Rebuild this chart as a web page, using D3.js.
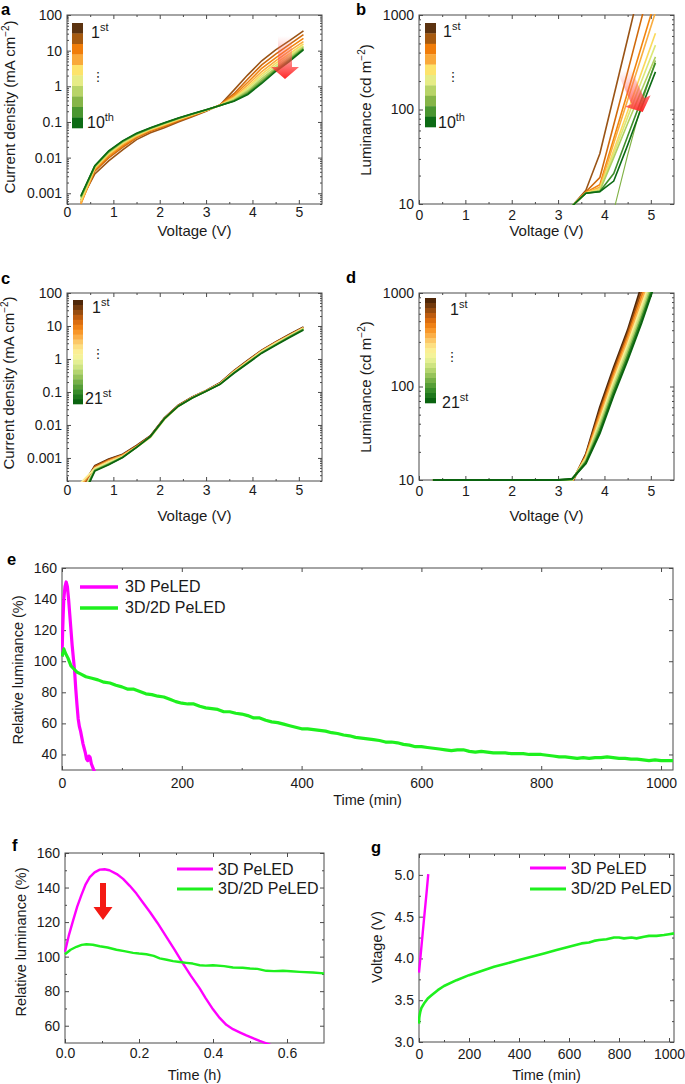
<!DOCTYPE html>
<html><head><meta charset="utf-8">
<script src="https://cdn.jsdelivr.net/npm/d3@7"></script>
<style>
body{margin:0;background:#fff;}
svg{display:block;font-family:"Liberation Sans",Arial,Helvetica,sans-serif;}
</style></head><body>
<svg id="chart" width="685" height="1084"></svg>
<script>
// ---------------- DATA ----------------
const voltsA = [0.3,0.6,0.9,1.2,1.5,1.8,2.1,2.4,2.7,3.0,3.3,3.6,3.9,4.2,4.5,4.8,5.1];
const scansA = [
 [0.00063,0.0035,0.0081,0.0166,0.032,0.050,0.069,0.100,0.140,0.200,0.30,0.78,2.1,5.2,10.5,19,36],
 [0.00055,0.0042,0.0098,0.0195,0.036,0.055,0.075,0.107,0.148,0.205,0.30,0.62,1.6,4.0,8.0,15,28],
 [0.00050,0.0046,0.0110,0.0215,0.038,0.058,0.079,0.111,0.152,0.208,0.30,0.55,1.3,3.2,6.3,12,22],
 [0.00052,0.0049,0.0120,0.0235,0.040,0.060,0.082,0.115,0.156,0.210,0.30,0.50,1.1,2.6,5.2,9.8,18],
 [0.00060,0.0052,0.0128,0.0250,0.042,0.062,0.085,0.118,0.159,0.212,0.29,0.47,0.95,2.2,4.4,8.2,15.5],
 [0.00068,0.0054,0.0135,0.0262,0.044,0.064,0.088,0.121,0.162,0.214,0.29,0.44,0.85,1.9,3.8,7.2,13.5],
 [0.00074,0.0056,0.0141,0.0272,0.045,0.066,0.090,0.124,0.165,0.216,0.29,0.42,0.75,1.65,3.3,6.4,12.5],
 [0.00078,0.0057,0.0146,0.0282,0.046,0.067,0.092,0.126,0.167,0.218,0.29,0.40,0.68,1.45,3.0,5.8,11.5],
 [0.00082,0.0058,0.0150,0.0290,0.047,0.068,0.093,0.128,0.168,0.219,0.29,0.39,0.63,1.3,2.8,5.4,11],
 [0.00085,0.0059,0.0155,0.0295,0.048,0.069,0.095,0.130,0.170,0.220,0.29,0.38,0.59,1.2,2.6,5.0,10.5]
];
const voltsB = [3.3,3.6,3.9,4.2,4.5,4.8,5.1];
const scansB = [
 [9.5,14,34,138,560,2300,9000],
 [9.5,13.5,19,69,250,920,3300],
 [9.5,13.3,16,49,152,470,1450],
 [9.5,13.2,15,44,126,365,1070],
 [9.5,13.1,14.5,37,96,247,640],
 [9.5,13,14,34,83,200,480],
 [9.5,13,13.8,31,71,160,360],
 [null,null,null,8.5,33,115,330],
 [9.5,13,13.6,21,52,128,310],
 [9.5,13,13.5,17.5,42,105,250]
];
const voltsC = [0.3,0.6,0.9,1.2,1.5,1.8,2.1,2.4,2.7,3.0,3.3,3.6,3.9,4.2,4.5,4.8,5.1];
const scanIdxC = [1,4,8,11,14,18,21];
const scansC = [
 [0.00012,0.00058,0.00092,0.0013,0.0024,0.0047,0.0165,0.040,0.070,0.110,0.190,0.44,0.92,1.85,3.3,5.6,9.4],
 [0.00011,0.00055,0.00088,0.00125,0.0023,0.0046,0.016,0.039,0.069,0.109,0.185,0.43,0.89,1.8,3.2,5.4,9.0],
 [0.00015,0.0005,0.00082,0.0012,0.0022,0.0044,0.0158,0.038,0.068,0.108,0.18,0.42,0.86,1.75,3.1,5.25,8.8],
 [0.00018,0.00048,0.00075,0.0011,0.0021,0.0041,0.0145,0.036,0.067,0.106,0.176,0.40,0.83,1.68,3.0,5.1,8.5],
 [0.00008,0.00045,0.0007,0.00108,0.0021,0.0043,0.015,0.037,0.066,0.105,0.173,0.39,0.80,1.62,2.85,4.9,8.2],
 [0.00006,0.00042,0.00065,0.00105,0.0021,0.0044,0.0152,0.037,0.066,0.105,0.171,0.38,0.77,1.56,2.7,4.7,7.9],
 [0.00005,0.0004,0.00062,0.00103,0.0021,0.0045,0.0155,0.037,0.066,0.105,0.17,0.37,0.74,1.5,2.6,4.5,7.6]
];
const voltsD = [0.3,0.6,0.9,1.2,1.5,1.8,2.1,2.4,2.7,3.0,3.3,3.6,3.9,4.2,4.5,4.8,5.1];
const scanIdxD = [1,3,6,8,11,14,16,19,21];
const scansD = [
 [10,10,10,10,10,10,10,10,10,10,9.3,19,60,160,400,1200,3000],
 [10,10,10,10,10,10,10,10,10,10,9.5,18.5,55,148,370,1050,2700],
 [10,10,10,10,10,10,10,10,10,10,9.6,18,51,137,340,920,2400],
 [10,10,10,10,10,10,10,10,10,10,9.8,17.5,47,125,310,820,2100],
 [10,10,10,10,10,10,10,10,10,10,9.9,17,43,115,280,730,1900],
 [10,10,10,10,10,10,10,10,10,10,10,16.5,40,105,255,650,1700],
 [10,10,10,10,10,10,10,10,10,10,10.1,16,37,96,230,580,1550],
 [10,10,10,10,10,10,10,10,10,10,10.2,15.5,34,88,210,530,1400],
 [10,10,10,10,10,10,10,10,10,10,10.3,15,31.6,81,192,480,1300]
];
const seriesNames = ["3D PeLED","3D/2D PeLED"];
const eTime3D = [0,1,2,3,5,7,9,11,13,15,17,19,21,23,25,27,29,31,33,35,37,39,41,43,45,47,49,52,55];
const eLum3D  = [103,118,130,140,148,151,148,140,130,120,110,102,94,82,72,63,58,55,51,47,44,41,37,36,39,38,34,31,28];
const eTime2D = [0,3,6,10,15,20,25,30,40,50,60,70,80,90,100,110,120,130,140,150,160,170,180,190,200,210,220,230,240,250,260,270,280,290,300,310,320,330,340,350,360,370,380,390,400,410,420,430,440,450,460,470,480,490,500,510,520,530,540,550,560,570,580,590,600,610,620,630,640,650,660,670,680,690,700,710,720,730,740,750,760,770,780,790,800,810,820,830,840,850,860,870,880,890,900,910,920,930,940,950,960,970,980,990,1000,1010,1020];
const eLum2D  = [103,108,105,102,97,95,93,92,90,89,88,86.5,86,84.5,83.5,82,82,80.5,79,78.5,77.5,77,75.5,74,73,72.5,72.5,71,70,69.5,69,67.5,67.5,66.5,66,65,63.5,63.5,62,61,60.5,59.5,58.5,57.5,56.5,56.5,56,55.5,55,54,53.5,52.5,52,51,50.5,50,49.5,49,48,48,47.5,46.5,46,45,45,44.5,44,43.5,43,42.5,43,43,42,41.5,42,41.5,41,41,41,40.5,40.5,40.5,40,40,40,39.5,39,38.5,38.5,38,37.5,38,37.5,38,38,38.5,38,37.5,37.5,37,37,36.5,36,36.5,36,36,36];
const fTime3D = [0,0.01,0.022,0.033,0.044,0.055,0.067,0.08,0.094,0.107,0.12,0.14,0.157,0.175,0.193,0.21,0.229,0.25,0.274,0.296,0.319,0.34,0.364,0.38,0.4,0.418,0.436,0.454,0.472,0.49,0.508,0.526,0.544,0.56];
const fLum3D  = [102.8,112,121,129,135.5,141.5,146,148.8,150.4,150.6,150,147.8,145,141,136.5,131.5,126,119.5,111.4,104,96,89,81.6,76,69.5,64.5,60.5,58,56.2,54.4,52.8,51.2,49.8,48.5];
const fTime2D = [0,0.015,0.031,0.045,0.058,0.075,0.094,0.115,0.139,0.16,0.184,0.2,0.22,0.24,0.256,0.275,0.292,0.31,0.328,0.345,0.364,0.38,0.4,0.43,0.454,0.48,0.5,0.52,0.544,0.565,0.589,0.61,0.634,0.67,0.7];
const fLum2D  = [101.4,104,105.7,106.8,107.2,106.9,106,105.3,104,103.2,102.2,101.8,101.4,100.4,99,98.2,97.4,96.9,96.4,96,95,94.8,95,94.5,93.7,93.6,93.1,92.9,91.8,91.6,91.8,91.5,91.2,90.8,90.3];
const gTime3D = [0,10,20,30,37];
const gVolt3D = [3.83,4.15,4.47,4.78,5.01];
const gTime2D = [0,1,3,5,10,20,35,50,75,100,150,200,250,300,350,400,450,500,550,600,650,680,700,720,750,780,800,820,850,870,900,920,950,980,1000,1020];
const gVolt2D = [3.22,3.29,3.33,3.36,3.41,3.46,3.52,3.56,3.62,3.67,3.74,3.80,3.85,3.90,3.94,3.98,4.02,4.06,4.10,4.14,4.18,4.19,4.21,4.22,4.23,4.25,4.25,4.24,4.25,4.24,4.26,4.27,4.27,4.28,4.29,4.30];
const voltTicks = [0,1,2,3,4,5];
const jTicks = [0.001,0.01,0.1,1,10,100];
const lTicks = [10,100,1000];
const timeTicks = [0,200,400,600,800,1000];
const relTicksE = [40,60,80,100,120,140,160];
const relTicksF = [60,80,100,120,140,160];
const hourTicks = [0,0.2,0.4,0.6];
const vTicksG = [3.0,3.5,4.0,4.5,5.0];

// ---------------- STYLE ----------------
const AX = "#4a4a4a", TXT = "#1a1a1a";
const MAG = "#ff00ff", GRN = "#1ef01e";
const pal10 = ["#5c3310","#a65a10","#f07d0a","#f9a93a","#fde36b","#e6ec86","#b8d468","#86b548","#4a9630","#0c6b14"];
const line10 = ["#9a5416","#d06a0c","#f2850f","#f9ad40","#fbd95c","#dde776","#b0d060","#80b245","#3f8f2a","#0c6b14"];
const interp21 = d3.interpolateRgbBasis(["#4f2708","#8e4a12","#d9650c","#f88a14","#fcb552","#fde58a","#fbf9a0","#d6ea8a","#a6cd62","#6aa840","#2f8a26","#0a630f"]);
const pal21 = d3.range(21).map(i=>interp21(i/20));

const svg = d3.select("#chart");
const defs = svg.append("defs");

function logMinor(dom){
  const out=[]; const lo=Math.floor(Math.log10(dom[0])), hi=Math.ceil(Math.log10(dom[1]));
  for(let e=lo;e<=hi;e++) for(let k=2;k<=9;k++){const v=k*Math.pow(10,e); if(v>=dom[0]&&v<=dom[1]) out.push(v);}
  return out;
}

function panel(o){
  const x=o.x.range([o.l,o.r]), y=o.y.range([o.b,o.t]);
  const g=svg.append("g");
  defs.append("clipPath").attr("id","clip"+o.name).append("rect")
    .attr("x",o.l-1).attr("y",o.t-1).attr("width",o.r-o.l+2).attr("height",o.b-o.t+2);
  g.append("rect").attr("x",o.l).attr("y",o.t).attr("width",o.r-o.l).attr("height",o.b-o.t)
    .attr("fill","none").attr("stroke",AX).attr("stroke-width",1);
  const ax=(gen,tr,vals,size,fmt,pad)=>{
    const a=gen.tickValues(vals).tickSizeInner(-size).tickSizeOuter(0).tickPadding(pad||0).tickFormat(fmt||(()=>""));
    const s=g.append("g").attr("transform",tr).call(a);
    s.select(".domain").remove();
    s.attr("font-family",null).attr("font-size",14).attr("color",AX);
    s.selectAll("text").attr("fill",TXT);
  };
  ax(d3.axisBottom(x),`translate(0,${o.b})`,o.xTicks,4,o.xFmt,o.xPad);
  ax(d3.axisTop(x),`translate(0,${o.t})`,o.xTicks,4);
  if(o.xMinor){ax(d3.axisBottom(x),`translate(0,${o.b})`,o.xMinor,2);ax(d3.axisTop(x),`translate(0,${o.t})`,o.xMinor,2);}
  ax(d3.axisLeft(y),`translate(${o.l},0)`,o.yTicks,4,o.yFmt,5);
  ax(d3.axisRight(y),`translate(${o.r},0)`,o.yTicks,4);
  if(o.yMinor){ax(d3.axisLeft(y),`translate(${o.l},0)`,o.yMinor,2);ax(d3.axisRight(y),`translate(${o.r},0)`,o.yMinor,2);}
  g.append("text").attr("x",(o.l+o.r)/2).attr("y",o.xTitleY).attr("text-anchor","middle")
    .attr("font-size",o.titleSize||15).attr("fill",TXT).text(o.xTitle);
  const yt=g.append("text").attr("transform",`translate(${o.yTitleX},${o.yTitleC}) rotate(-90)`)
    .attr("text-anchor","middle").attr("font-size",o.titleSize||15).attr("fill",TXT);
  o.yTitle.forEach(p=>{const t=yt.append("tspan").text(p.t); if(p.sup){t.attr("font-size",10).attr("dy",-6);} if(p.down){t.attr("dy",6);} });
  g.append("text").attr("x",o.letter[0]).attr("y",o.letter[1]).attr("font-size",16.5).attr("font-weight","bold").attr("fill","#000").text(o.name);
  const plot=g.append("g").attr("clip-path",`url(#clip${o.name})`);
  return {g,plot,x,y};
}

function colorbar(g,cols,x0,y0,w,h,lab1,lab2,p){
  const n=cols.length, sh=h/n;
  cols.forEach((c,i)=>g.append("rect").attr("x",x0).attr("y",y0+i*sh).attr("width",w).attr("height",sh+0.3).attr("fill",c));
  const t1=g.append("text").attr("x",p.x1).attr("y",p.y1).attr("font-size",16).attr("fill",TXT);
  t1.append("tspan").text(lab1[0]); t1.append("tspan").attr("font-size",11).attr("dy",-7).text(lab1[1]);
  const t2=g.append("text").attr("x",p.x2).attr("y",p.y2).attr("font-size",16).attr("fill",TXT);
  t2.append("tspan").text(lab2[0]); t2.append("tspan").attr("font-size",11).attr("dy",-7).text(lab2[1]);
  g.append("text").attr("x",p.xd).attr("y",p.yd).attr("font-size",13).attr("text-anchor","middle")
    .attr("font-family","DejaVu Sans").attr("fill",TXT).text("\u22EE");
}

function gradArrow(g,id,tx,ty,len,sw,hw,hl,rot){
  const gr=defs.append("linearGradient").attr("id",id).attr("x1",0).attr("y1",0).attr("x2",0).attr("y2",1);
  gr.append("stop").attr("offset","0%").attr("stop-color","#ff8080").attr("stop-opacity",0);
  gr.append("stop").attr("offset","50%").attr("stop-color","#ff5050").attr("stop-opacity",0.55);
  gr.append("stop").attr("offset","100%").attr("stop-color","#ff2525").attr("stop-opacity",1);
  const pts=[[-sw/2,0],[sw/2,0],[sw/2,len-hl],[hw/2,len-hl],[0,len],[-hw/2,len-hl],[-sw/2,len-hl]];
  g.append("path").attr("d","M"+pts.map(p=>p.join(",")).join("L")+"Z")
    .attr("transform",`translate(${tx},${ty}) rotate(${rot})`).attr("fill",`url(#${id})`);
}

// ---------------- PANEL A ----------------
{
  const P=panel({name:"a",l:67,r:322,t:15,b:204,x:d3.scaleLinear().domain([0,5.5]),y:d3.scaleLog().domain([0.0005,100]),
    xTicks:voltTicks,xMinor:[0.5,1.5,2.5,3.5,4.5],xFmt:d3.format("d"),xPad:3,yTicks:jTicks,yMinor:logMinor([0.0005,100]),yFmt:d=>String(d),
    xTitle:"Voltage (V)",xTitleY:236,yTitleX:15,yTitleC:107,titleSize:15,
    yTitle:[{t:"Current density (mA cm"},{t:"\u22122",sup:true},{t:")",down:true}],letter:[1,15]});
  const line=d3.line().x((d,i)=>P.x(voltsA[i])).y(d=>P.y(d));
  scansA.forEach((s,i)=>P.plot.append("path").attr("d",line(s)).attr("fill","none").attr("stroke",line10[i]).attr("stroke-width",1.6));
  gradArrow(P.g,"ga",285,36,43,14,28,12,0);
  colorbar(P.g,pal10,72,23,11,105,["1","st"],["10","th"],{x1:91,y1:38,x2:87,y2:128,xd:98,yd:81});
}
// ---------------- PANEL B ----------------
{
  const P=panel({name:"b",l:419,r:674,t:15,b:204,x:d3.scaleLinear().domain([0,5.5]),y:d3.scaleLog().domain([10,1000]),
    xTicks:voltTicks,xMinor:[0.5,1.5,2.5,3.5,4.5],xFmt:d3.format("d"),xPad:6,yTicks:lTicks,yMinor:logMinor([10,1000]),yFmt:d=>String(d),
    xTitle:"Voltage (V)",xTitleY:236,yTitleX:371,yTitleC:110,titleSize:15,
    yTitle:[{t:"Luminance (cd m"},{t:"\u22122",sup:true},{t:")",down:true}],letter:[356,15]});
  const line=d3.line().defined(d=>d!=null).x((d,i)=>P.x(voltsB[i])).y(d=>P.y(d));
  scansB.forEach((s,i)=>P.plot.append("path").attr("d",line(s)).attr("fill","none").attr("stroke",line10[i]).attr("stroke-width",i===7?1.1:1.6));
  gradArrow(P.g,"gb",624,70,46,14,28,12,-24);
  colorbar(P.g,pal10,425,23,11,104,["1","st"],["10","th"],{x1:443,y1:37,x2:438,y2:128,xd:453,yd:81});
}
// ---------------- PANEL C ----------------
{
  const P=panel({name:"c",l:67,r:322,t:293,b:481,x:d3.scaleLinear().domain([0,5.5]),y:d3.scaleLog().domain([0.0002,100]),
    xTicks:voltTicks,xMinor:[0.5,1.5,2.5,3.5,4.5],xFmt:d3.format("d"),xPad:4,yTicks:jTicks,yMinor:logMinor([0.0002,100]),yFmt:d=>String(d),
    xTitle:"Voltage (V)",xTitleY:521,yTitleX:14,yTitleC:383,titleSize:15,
    yTitle:[{t:"Current density (mA cm"},{t:"\u22122",sup:true},{t:")",down:true}],letter:[1,284]});
  const line=d3.line().x((d,i)=>P.x(voltsC[i])).y(d=>P.y(d));
  scansC.forEach((s,i)=>P.plot.append("path").attr("d",line(s)).attr("fill","none").attr("stroke",pal21[scanIdxC[i]-1]).attr("stroke-width",1.7));
  colorbar(P.g,pal21,73,300,10,104,["1","st"],["21","st"],{x1:92,y1:313,x2:85,y2:404,xd:98,yd:358});
}
// ---------------- PANEL D ----------------
{
  const P=panel({name:"d",l:419,r:674,t:293,b:480,x:d3.scaleLinear().domain([0,5.5]),y:d3.scaleLog().domain([10,1000]),
    xTicks:voltTicks,xMinor:[0.5,1.5,2.5,3.5,4.5],xFmt:d3.format("d"),xPad:6,yTicks:lTicks,yMinor:logMinor([10,1000]),yFmt:d=>String(d),
    xTitle:"Voltage (V)",xTitleY:521,yTitleX:371,yTitleC:387,titleSize:15,
    yTitle:[{t:"Luminance (cd m"},{t:"\u22122",sup:true},{t:")",down:true}],letter:[346,283]});
  const line=d3.line().x((d,i)=>P.x(voltsD[i])).y(d=>P.y(d));
  scansD.forEach((s,i)=>P.plot.append("path").attr("d",line(s)).attr("fill","none").attr("stroke",pal21[scanIdxD[i]-1]).attr("stroke-width",2));
  colorbar(P.g,pal21,425,298,11,105,["1","st"],["21","st"],{x1:450,y1:315,x2:442,y2:408,xd:452,yd:361});
}
// ---------------- PANEL E ----------------
{
  const P=panel({name:"e",l:62,r:673,t:568,b:770,x:d3.scaleLinear().domain([0,1020]),y:d3.scaleLinear().domain([30,160]),
    xTicks:timeTicks,xMinor:[100,300,500,700,900],xFmt:d3.format("d"),xPad:8,yTicks:relTicksE,yFmt:d3.format("d"),
    xTitle:"Time (min)",xTitleY:805,yTitleX:23,yTitleC:670,titleSize:14.5,
    yTitle:[{t:"Relative luminance (%)"}],letter:[7,565]});
  const l3=d3.line().x((d,i)=>P.x(eTime3D[i])).y(d=>P.y(d));
  const l2=d3.line().x((d,i)=>P.x(eTime2D[i])).y(d=>P.y(d));
  P.plot.append("path").attr("d",l3(eLum3D)).attr("fill","none").attr("stroke",MAG).attr("stroke-width",3.2).attr("stroke-linejoin","round");
  P.plot.append("path").attr("d",l2(eLum2D)).attr("fill","none").attr("stroke",GRN).attr("stroke-width",3.2).attr("stroke-linejoin","round");
  [[MAG,587,592],[GRN,608,613]].forEach((c,i)=>{
    P.g.append("line").attr("x1",80).attr("x2",118).attr("y1",c[1]).attr("y2",c[1]).attr("stroke",c[0]).attr("stroke-width",3.5);
    P.g.append("text").attr("x",125).attr("y",c[2]).attr("font-size",16).attr("fill",TXT).text(seriesNames[i]);
  });
}
// ---------------- PANEL F ----------------
{
  const P=panel({name:"f",l:65,r:324,t:853,b:1043,x:d3.scaleLinear().domain([0,0.7]),y:d3.scaleLinear().domain([50,160]),
    xTicks:hourTicks,xMinor:[0.1,0.3,0.5],xFmt:d3.format(".1f"),xPad:5,yTicks:relTicksF,yMinor:[70,90,110,130,150],yFmt:d3.format("d"),
    xTitle:"Time (h)",xTitleY:1080,yTitleX:26,yTitleC:942,titleSize:14.5,
    yTitle:[{t:"Relative luminance (%)"}],letter:[12,851]});
  const l3=d3.line().x((d,i)=>P.x(fTime3D[i])).y(d=>P.y(d));
  const l2=d3.line().x((d,i)=>P.x(fTime2D[i])).y(d=>P.y(d));
  P.plot.append("path").attr("d",l3(fLum3D)).attr("fill","none").attr("stroke",MAG).attr("stroke-width",2.4).attr("stroke-linejoin","round");
  P.plot.append("path").attr("d",l2(fLum2D)).attr("fill","none").attr("stroke",GRN).attr("stroke-width",2.4).attr("stroke-linejoin","round");
  [[MAG,869,875],[GRN,889,894]].forEach((c,i)=>{
    P.g.append("line").attr("x1",177).attr("x2",213).attr("y1",c[1]).attr("y2",c[1]).attr("stroke",c[0]).attr("stroke-width",3);
    P.g.append("text").attr("x",218).attr("y",c[2]).attr("font-size",16).attr("fill",TXT).text(seriesNames[i]);
  });
  P.g.append("path").attr("d","M100,883L106,883L106,907L112.5,907L103,920L93.5,907L100,907Z").attr("fill","#f41a14");
}
// ---------------- PANEL G ----------------
{
  const P=panel({name:"g",l:419,r:674,t:854,b:1042,x:d3.scaleLinear().domain([0,1020]),y:d3.scaleLinear().domain([3.0,5.25]),
    xTicks:timeTicks,xMinor:[100,300,500,700,900],xFmt:d3.format("d"),xPad:7,yTicks:vTicksG,yMinor:[3.25,3.75,4.25,4.75,5.25],yFmt:d3.format(".1f"),
    xTitle:"Time (min)",xTitleY:1080,yTitleX:382,yTitleC:947,titleSize:14.5,
    yTitle:[{t:"Voltage (V)"}],letter:[371,853]});
  const l3=d3.line().x((d,i)=>P.x(gTime3D[i])).y(d=>P.y(d));
  const l2=d3.line().x((d,i)=>P.x(gTime2D[i])).y(d=>P.y(d));
  P.plot.append("path").attr("d",l3(gVolt3D)).attr("fill","none").attr("stroke",MAG).attr("stroke-width",2.4);
  P.plot.append("path").attr("d",l2(gVolt2D)).attr("fill","none").attr("stroke",GRN).attr("stroke-width",2.6).attr("stroke-linejoin","round");
  [[MAG,868,874],[GRN,889,894]].forEach((c,i)=>{
    P.g.append("line").attr("x1",530).attr("x2",566).attr("y1",c[1]).attr("y2",c[1]).attr("stroke",c[0]).attr("stroke-width",3);
    P.g.append("text").attr("x",571).attr("y",c[2]).attr("font-size",16).attr("fill",TXT).text(seriesNames[i]);
  });
}
</script>
</body></html>
